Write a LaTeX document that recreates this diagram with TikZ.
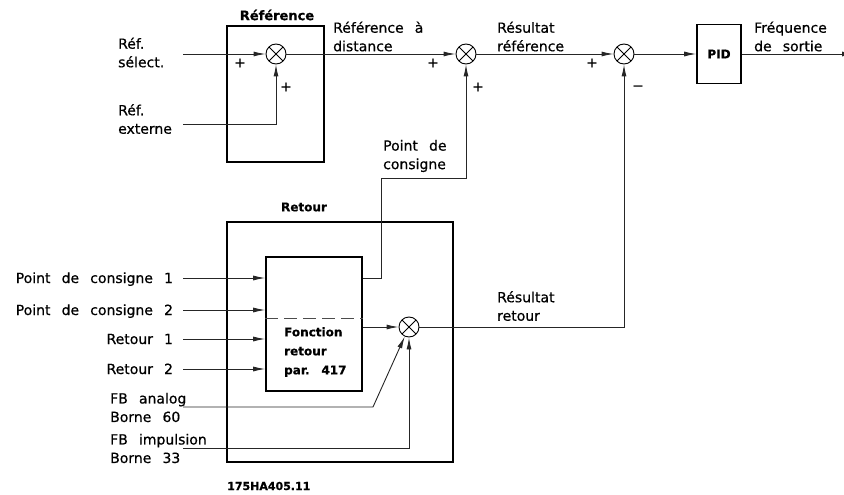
\documentclass[tikz,border=0pt]{standalone}
\usepackage{fontspec}
\setmainfont{DejaVu Sans}[WordSpace=2.5, FakeBold=0.6]
\usetikzlibrary{positioning,arrows.meta}

\begin{document}
\begin{tikzpicture}[x=1pt, y=-1pt,
  block/.style={draw, line width=1.6pt, inner sep=0pt},
  sumjunc/.style={draw, circle, line width=0.9pt, minimum size=20pt, inner sep=0pt,
    path picture={\draw[line width=0.9pt] (path picture bounding box.north west) -- (path picture bounding box.south east)
      (path picture bounding box.north east) -- (path picture bounding box.south west);}},
  sig/.style={line width=0.9pt, black!85, -{Latex[length=12pt, width=5pt]}},
  txt/.style={inner sep=0pt, align=left, font=\fontsize{14}{18.5}\selectfont},
  intxt/.style={txt, text height=10pt, text depth=0pt, outer xsep=10pt},
  boxtxt/.style={inner sep=0pt, align=left, font=\bfseries\fontsize{12}{19}\selectfont},
  sgn/.style={inner sep=0pt, font=\fontsize{14}{14}\selectfont}]
\useasboundingbox (0,0) rectangle (844,495);

% bloc reference
\node[block, minimum width=97pt, minimum height=136pt] (refbox) at (275.5,94) {};
\node[boxtxt, font=\bfseries\fontsize{13}{13}\selectfont] (reftitle) at (277,15) {Référence};
\node[sumjunc] (sumA) at (276,54) {};
\node[txt, anchor=west] (sel) at (118,52.5) {Réf.\\sélect.};
\node[txt, anchor=west] (ext) at (118,119) {Réf.\\externe};
\coordinate (selS) at (183,54);
\coordinate (extS) at (183,124);
\draw[sig] (selS) -- (sumA);
\draw[sig] (extS) -| (sumA);
\node[sgn] (pA1) at (240,63) {+};
\node[sgn] (pA2) at (286,87) {+};

% chaine principale
\node[sumjunc] (sumB) at (466,54) {};
\node[sumjunc] (sumC) at (624,54) {};
\node[block, minimum width=44pt, minimum height=59pt, font=\bfseries\fontsize{12}{12}\selectfont] (pid) at (719,54) {PID};
\coordinate (outE) at (854,54);
\draw[sig] (sumA) -- (sumB);
\draw[sig] (sumB) -- (sumC);
\draw[sig] (sumC) -- (pid);
\draw[sig] (pid) -- (outE);
\node[txt, anchor=west] (dist) at (333,36.5) {Référence à\\distance};
\node[txt, anchor=west] (resref) at (497,36.5) {Résultat\\référence};
\node[txt, anchor=west] (freq) at (754,36.5) {Fréquence\\de sortie};
\node[sgn] (pB1) at (433,63) {+};
\node[sgn] (pB2) at (478,87) {+};
\node[sgn] (pC1) at (592,63) {+};
\node[sgn] (pC2) at (638,88) {−};

% bloc retour
\node[block, minimum width=226pt, minimum height=240pt] (retbox) at (340,342) {};
\node[boxtxt] (rettitle) at (304,207) {Retour};
\node[block, minimum width=96pt, minimum height=134pt] (fbox) at (314,324) {};
\draw[line width=0.9pt, black!70, dash pattern=on 13pt off 6pt] ([yshift=6pt]fbox.west) -- ([yshift=6pt]fbox.east);
\node[boxtxt, anchor=west] (ftxt) at (284,352) {Fonction\\retour\\par. 417};
\node[sumjunc] (sumD) at (409,327) {};

\node[intxt, anchor=east] (pc1) at (183,278) {Point de consigne 1};
\node[intxt, anchor=east] (pc2) at (183,310) {Point de consigne 2};
\node[intxt, anchor=east] (ret1) at (183,339) {Retour 1};
\node[intxt, anchor=east] (ret2) at (183,369) {Retour 2};
\draw[sig] (pc1) -- (pc1 -| fbox.west);
\draw[sig] (pc2) -- (pc2 -| fbox.west);
\draw[sig] (ret1) -- (ret1 -| fbox.west);
\draw[sig] (ret2) -- (ret2 -| fbox.west);

\node[txt, anchor=west] (fba) at (110,407.5) {FB analog\\Borne 60};
\node[txt, anchor=west] (fbi) at (110,448.5) {FB impulsion\\Borne 33};
\coordinate (fbaS) at (183,407);
\coordinate (fbaK) at (373,407);
\coordinate (fbiS) at (183,448);
\draw[sig] (fbaS) -- (fbaK) -- (sumD);
\draw[sig] (fbiS) -| (sumD);
\draw[sig] (fbox.east |- sumD) -- (sumD);

% consigne et retour vers le haut
\draw[sig] ([yshift=46pt]fbox.east) -- ++(19,0) |- (sumB |- 0,178) -- (sumB);
\node[txt, anchor=west] (pcl) at (383,156) {Point de\\consigne};
\draw[sig] (sumD) -| (sumC);
\node[txt, anchor=west] (resret) at (497,306) {Résultat\\retour};

\node[inner sep=0pt, anchor=west, font=\bfseries\fontsize{11}{11}\selectfont] (code) at (227,486) {175HA405.11};
\end{tikzpicture}
\end{document}
